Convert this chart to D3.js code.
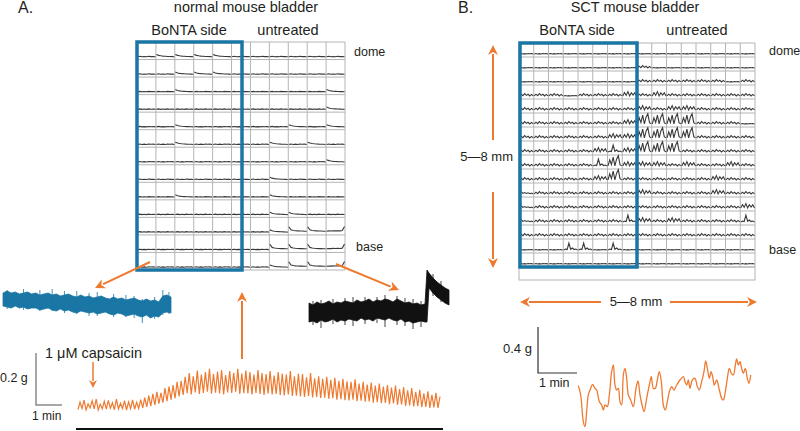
<!DOCTYPE html>
<html><head><meta charset="utf-8">
<script src="https://cdn.jsdelivr.net/npm/d3@7"></script>
<style>
body{margin:0;background:#fff}
svg{display:block}
text{font-family:"Liberation Sans",Arial,sans-serif;fill:#231f20}
</style>
</head><body>
<svg id="c" width="800" height="431"></svg>
<script>
// ---------- DATA ----------
// Mini-trace shapes (relative tension, 9 samples per electrode cell)
const shapeFlat  = [0, 0.3, 0, 0.2, 0, 0.3, 0.1, 0.2, 0];
const shapeDecay = [1.5, 0.9, 0.6, 0.4, 0.3, 0.2, 0.15, 0.1, 0];
const shapeBigDecay = [3.6, 1.5, 1.1, 0.9, 0.8, 0.7, 0.7, 0.6, 0.6];
const shapeEndSpike = [0.6, 0.8, 0.7, 0.9, 0.8, 0.9, 0.8, 1.0, 3.8];
const shapeSmallWave = [0, 1.3, 0.2, 1.7, 0.4, 1.2, 0, 1.1, 0];
const shapeMedWave = [0, 2.5, 0.4, 3.2, 0, 2.4, 0.6, 2.3, 0];
const shapeBigWave = [0, 4.5, 1, 6.5, 0, 5, 7.5, 1, 0];
const shapePeak = [0, 0.6, 0.3, 5, 0.5, 1.4, 0.3, 0.7, 0];
const shapeLeftPeak = [4.5, 1.5, 0.4, 1.0, 0.3, 0.8, 0.2, 0.6, 0];

// Panel A electrode array: 13 rows (dome -> base) x 11 columns
const gridARows = [
  "-dddd------",
  "--ddd------",
  "--d-------d",
  "----------d",
  "--d-----d-d",
  "--d----d-d-",
  "----------d",
  "-------d---",
  "--d----d---",
  "-------dd--",
  "-------dDDS",
  "-------DDDS",
  "-------dDDS"
];
// Panel B electrode array: 16 rows x 16 columns
const gridBRows = [
  "----------------",
  "--------s-------",
  "--------ssssss-s",
  "sss-sssmsmssssss",
  "ssssssssmsmmssss",
  "sssssssmWWWWsss-",
  "ssssssmmWWWWssss",
  "sssssmPmWWWsssss",
  "sssssPWmmmsmssms",
  "sssssmWssssssmss",
  "Lsssssssmssssmss",
  "Lssssssssssssssm",
  "LssssssPmsmssssP",
  "ssssssssssssssss",
  "---PP-P---------",
  "----------------"
];

// Capsaicin trace, panel A (tension in mg, one trough + one peak per cycle)
const capsTroughs = [2,6,0,8,4,0,5,3,7,1,4,6,0,5,3,6,
  8,12,15,20,24,28,34,40,45,52,58,
  65,60,68,62,66,70,63,67,64,60,68,66,70,62,65,64,60,66,62,58,64,60,62,58,56,60,54,55,
  52,50,54,48,50,46,47,43,45,40,42,38,37,40,34,36,32,33,28,30,26,27,22,25,20,21,16,18,14,15,11,12,8,10,8];
const capsPeaks = [30,38,24,35,42,22,33,37,28,42,26,36,31,39,30,40,
  48,55,62,70,66,84,90,96,108,112,128,
  142,130,152,136,146,158,138,148,154,134,150,143,158,140,152,146,136,154,142,138,150,132,146,140,136,150,130,140,
  138,126,142,122,130,120,128,116,124,112,120,110,108,118,102,108,98,106,94,102,90,96,86,94,80,88,76,84,70,78,64,72,58,66,52];

// BoNTA-side recording (noisy band: upper / lower envelope, a.u.)
const blueTop = [27,29,27,28,26,27,28,26,27,25,26,27,25,26,24,25,26,24,23,25,23,24,22,23,24,22,21,23,21,22,20,21,22,20,19,21,19,20,18,24,25,23];
const blueBottom = [14,13,12,14,12,13,11,12,12,10,11,12,10,9,11,9,10,8,7,9,8,7,8,6,7,8,6,5,7,6,4,5,6,4,3,5,2,4,3,7,8,7];
const blueSpikes = [[1,11,30],[5,10,31],[9,9,30],[12,9,31],[15,7,29],[18,6,29],[21,4,27],[23,4,28],[27,3,26],[30,3,25],[32,2,24],[34,-3,21],[37,1,23],[39,5,30],[40.5,6,28]];

// Untreated-side recording (noisy band with contraction at the end)
const blackT = [0,1,2,3,4,5,6,7,8,9,10,11,12,13,14,15,16,17,18,19,20,21,22,23,24,25,26,27,28,29,29.5,30,31,32,33,34,35];
const blackTop = [27,25,28,26,27,29,26,28,27,29,28,27,30,28,29,31,28,30,29,31,30,28,31,29,27,28,26,27,25,26,60,57,52,48,45,42,40];
const blackBot = [8,9,7,10,8,9,11,8,10,9,11,10,9,12,10,11,9,12,11,10,12,10,9,11,8,9,7,8,9,8,8,42,37,33,30,27,25];
const blackSpikes = [[1,5,29],[3,2,30],[6,6,31],[9,5,32],[11,4,33],[14,6,33],[17,7,33],[19,3,35],[22,5,34],[24,4,32],[26,1,31],[28,3,29],[31,34,56],[33,28,49]];

// SCT bladder trace, panel B (sample index, tension a.u.)
const sctTime = [25,32,40,45,50,55,62,68,75,80,88,95,100,105,112,118,125,130,135,140,145,150,155,160,165,170,175,182,190,198,204,210,216,222,230,238,244,250,256,262,268,274,280,286,292,298,305,312,320,330,340,345,350,355,360,367,375,382,388,395,402,407,412,418,423,428,433,440,447,455,460,466,472,478,484,490,496,500,505,510,515,520,526,532,537,542];
const sctValue = [128,100,20,5,50,100,120,132,120,115,80,70,55,70,65,100,170,190,130,115,120,80,70,160,180,150,100,85,65,120,142,100,70,50,90,130,155,120,120,145,170,140,70,55,80,110,125,115,130,145,155,140,130,145,120,145,150,125,115,140,170,202,180,150,170,155,130,145,120,90,85,110,150,180,165,160,190,208,190,200,180,165,180,150,135,160];

// Labels
const titleA = "normal mouse bladder";
const titleB = "SCT mouse bladder";
const sideLabels = ["BoNTA side", "untreated"];
const axisLabels = ["dome", "base"];
const sizeLabel = "5\u20148 mm";

// ---------- DRAWING ----------
const svg = d3.select("#c");
const BLUE = "#1a76a4", ORANGE = "#ee7a30", GRID = "#b4b4b8", TRACE = "#3a3a3a";

const shapes = {"-": shapeFlat, "d": shapeDecay, "D": shapeBigDecay, "S": shapeEndSpike,
  "s": shapeSmallWave, "m": shapeMedWave, "W": shapeBigWave, "P": shapePeak, "L": shapeLeftPeak};

function drawArray(rows, x0, x1, y0, y1, frac, unitPx, gridColor) {
  const nR = rows.length, nC = rows[0].length;
  const xs = d3.scaleLinear().domain([0, nC]).range([x0, x1]);
  const ys = d3.scaleLinear().domain([0, nR]).range([y0, y1]);
  const g = svg.append("g");
  g.selectAll("line.v").data(d3.range(nC + 1)).join("line")
    .attr("x1", d => xs(d)).attr("x2", d => xs(d)).attr("y1", y0).attr("y2", y1)
    .attr("stroke", gridColor).attr("stroke-width", 1);
  g.selectAll("line.h").data(d3.range(nR + 1)).join("line")
    .attr("y1", d => ys(d)).attr("y2", d => ys(d)).attr("x1", x0).attr("x2", x1)
    .attr("stroke", gridColor).attr("stroke-width", 1);
  const cells = [];
  rows.forEach((r, i) => r.split("").forEach((ch, j) => cells.push({i, j, s: shapes[ch]})));
  const line = d3.line();
  g.selectAll("path.t").data(cells).join("path")
    .attr("fill", "none").attr("stroke", TRACE).attr("stroke-width", 1.1)
    .attr("d", c => {
      const cx = d3.scaleLinear().domain([0, c.s.length - 1]).range([xs(c.j) + 0.5, xs(c.j + 1) - 0.5]);
      const base = ys(c.i) + frac * (ys(c.i + 1) - ys(c.i));
      return line(c.s.map((v, k) => [cx(k), base - v * unitPx]));
    });
  return {xs, ys};
}

function arrow(x1, y1, x2, y2, color, w, hl, hw) {
  const ang = Math.atan2(y2 - y1, x2 - x1);
  const bx = x2 - hl * Math.cos(ang), by = y2 - hl * Math.sin(ang);
  svg.append("line").attr("x1", x1).attr("y1", y1).attr("x2", bx + Math.cos(ang)).attr("y2", by + Math.sin(ang))
    .attr("stroke", color).attr("stroke-width", w);
  const px = -Math.sin(ang), py = Math.cos(ang);
  const nx = x2 - hl * 0.7 * Math.cos(ang), ny = y2 - hl * 0.7 * Math.sin(ang);
  svg.append("path").attr("fill", color)
    .attr("d", `M${x2},${y2}L${bx + px * hw},${by + py * hw}L${nx},${ny}L${bx - px * hw},${by - py * hw}Z`);
}

function text(t, x, y, size, anchor) {
  svg.append("text").attr("x", x).attr("y", y).attr("font-size", size)
    .attr("text-anchor", anchor || "start").text(t);
}

// ---- Panel A ----
text("A.", 18, 13, 16);
text(titleA, 246, 12, 14.5, "middle");
text(sideLabels[0], 189, 35, 14.5, "middle");
text(sideLabels[1], 288, 35, 14.5, "middle");
drawArray(gridARows, 137, 345, 42, 270, 0.84, 1.5, GRID);
svg.append("rect").attr("x", 137).attr("y", 42).attr("width", 105).attr("height", 228)
  .attr("fill", "none").attr("stroke", BLUE).attr("stroke-width", 3.5);
text(axisLabels[0], 354, 56, 12.5);
text(axisLabels[1], 356, 251, 12.5);

// blue (BoNTA side) recording
{
  const x = d3.scaleLinear().domain([0, blueTop.length - 1]).range([3, 171]);
  const y = d3.scaleLinear().domain([0, 40]).range([320, 280]);
  svg.append("path").datum(blueTop.map((v, i) => [i, v, blueBottom[i]]))
    .attr("fill", BLUE).attr("stroke", BLUE).attr("stroke-width", 0.8)
    .attr("d", d3.area().x(d => x(d[0])).y0(d => y(d[2])).y1(d => y(d[1])));
  svg.selectAll("line.bs").data(blueSpikes).join("line")
    .attr("x1", d => x(d[0])).attr("x2", d => x(d[0])).attr("y1", d => y(d[1])).attr("y2", d => y(d[2]))
    .attr("stroke", BLUE).attr("stroke-width", 0.8);
}
// black (untreated) recording
{
  const x = d3.scaleLinear().domain([0, 35]).range([309, 449]);
  const y = d3.scaleLinear().domain([0, 60]).range([330, 270]);
  svg.append("path").datum(blackT.map((t, i) => [t, blackTop[i], blackBot[i]]))
    .attr("fill", "#111").attr("stroke", "#111").attr("stroke-width", 0.8)
    .attr("d", d3.area().x(d => x(d[0])).y0(d => y(d[2])).y1(d => y(d[1])));
  svg.selectAll("line.ks").data(blackSpikes).join("line")
    .attr("x1", d => x(d[0])).attr("x2", d => x(d[0])).attr("y1", d => y(d[1])).attr("y2", d => y(d[2]))
    .attr("stroke", "#111").attr("stroke-width", 0.8);
}
arrow(150, 262, 95, 288, ORANGE, 2, 10, 5);
arrow(336, 264, 399, 290, ORANGE, 2, 10, 5);
arrow(242, 359, 242, 292, ORANGE, 2, 10, 5);
arrow(93, 362, 93, 388, ORANGE, 1.5, 8, 4);

// capsaicin trace
{
  const pts = [];
  capsTroughs.forEach((v, i) => { pts.push([i, v]); pts.push([i + 0.5, capsPeaks[i]]); });
  const x = d3.scaleLinear().domain([0, capsTroughs.length - 0.5]).range([78, 440]);
  const y = d3.scaleLinear().domain([0, 200]).range([410, 358]);
  svg.append("path").datum(pts).attr("fill", "none").attr("stroke", ORANGE).attr("stroke-width", 1.2)
    .attr("d", d3.line().x(d => x(d[0])).y(d => y(d[1])));
}
text("1 \u03bcM capsaicin", 45, 358, 14.5);
svg.append("path").attr("d", "M36,353V405H62").attr("fill", "none").attr("stroke", "#8a8a8a").attr("stroke-width", 1.5);
text("0.2 g", 0, 382, 12.5);
text("1 min", 32, 420, 12);
svg.append("line").attr("x1", 76).attr("x2", 443).attr("y1", 429).attr("y2", 429).attr("stroke", "#111").attr("stroke-width", 2);

// ---- Panel B ----
text("B.", 458, 13, 16);
text(titleB, 635, 12, 14.5, "middle");
text(sideLabels[0], 577, 35, 14.5, "middle");
text(sideLabels[1], 697, 35, 14.5, "middle");
svg.append("rect").attr("x", 519).attr("y", 267).attr("width", 236).attr("height", 13)
  .attr("fill", "none").attr("stroke", GRID).attr("stroke-width", 1);
drawArray(gridBRows, 519, 755, 43, 267, 0.78, 1.35, GRID);
svg.append("rect").attr("x", 520).attr("y", 43).attr("width", 117).attr("height", 224)
  .attr("fill", "none").attr("stroke", BLUE).attr("stroke-width", 3.5);
text(axisLabels[0], 769, 55, 12.5);
text(axisLabels[1], 769, 254, 12.5);
arrow(493, 140, 493, 45, ORANGE, 2, 10, 5);
arrow(493, 192, 493, 268, ORANGE, 2, 10, 5);
text(sizeLabel, 513, 161, 13, "end");
arrow(601, 302, 520, 302, ORANGE, 2, 10, 5);
arrow(670, 302, 757, 302, ORANGE, 2, 10, 5);
text(sizeLabel, 636, 306, 13, "middle");
svg.append("path").attr("d", "M538,327V373H577").attr("fill", "none").attr("stroke", "#333").attr("stroke-width", 1.2);
text("0.4 g", 503, 353, 13);
text("1 min", 539, 387, 12.5);
{
  const x = d3.scaleLinear().domain([0, 540]).range([570, 750]);
  const y = d3.scaleLinear().domain([0, 220]).range([428.3, 355]);
  svg.append("path").datum(sctTime.map((t, i) => [t, sctValue[i]]))
    .attr("fill", "none").attr("stroke", ORANGE).attr("stroke-width", 1.3)
    .attr("d", d3.line().x(d => x(d[0])).y(d => y(d[1])).curve(d3.curveCatmullRom));
}
</script>
</body></html>
